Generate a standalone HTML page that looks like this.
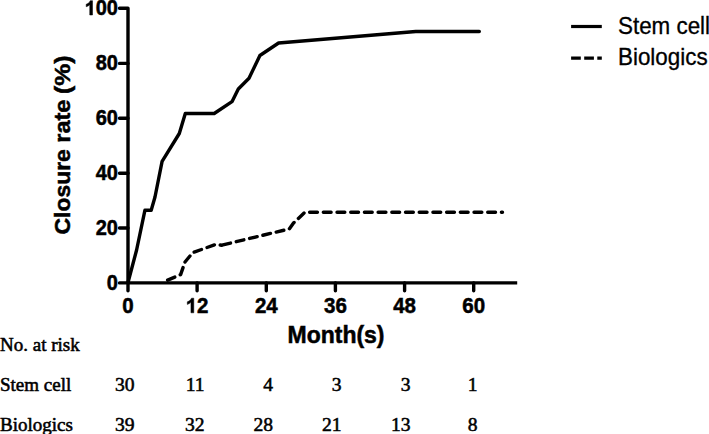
<!DOCTYPE html>
<html><head><meta charset="utf-8">
<style>
html,body{margin:0;padding:0;background:#fff;width:709px;height:434px;overflow:hidden}
svg{display:block}
.b{font-family:"Liberation Sans",sans-serif;font-weight:bold;fill:#000;stroke:#000;stroke-width:0.5px}
.r{font-family:"Liberation Sans",sans-serif;fill:#000;stroke:#000;stroke-width:0.3px}
.s{font-family:"Liberation Serif",serif;fill:#000;font-size:19.6px;stroke:#000;stroke-width:0.55px}
</style></head>
<body>
<svg width="709" height="434" viewBox="0 0 709 434">
<g stroke="#000" stroke-width="3.4" fill="none" stroke-linecap="round" stroke-linejoin="round">
  <!-- y axis -->
  <path d="M119.5 8.2 H128 V290.8"/>
  <path d="M119.5 63.4 H128 M119.5 118.3 H128 M119.5 173.2 H128 M119.5 228 H128"/>
  <!-- x axis -->
  <path d="M119.5 282.9 H128"/><path d="M128 282.9 H517.2" stroke-linecap="butt"/>
  <path d="M197.1 282.9 V290.8 M266.3 282.9 V290.8 M335.4 282.9 V290.8 M404.6 282.9 V290.8 M473.7 282.9 V290.8"/>
</g>
<g stroke="#000" stroke-width="3.4" fill="none" stroke-linecap="round" stroke-linejoin="round">
  <polyline points="128,282.5 136.6,250 144.9,210.3 151.2,210.3 155,197 162.1,161.4 179.3,133.5 185.3,113.5 214.2,113.5 232,101.7 238.3,89 249,78.3 259.9,55.5 278.6,43 415.8,31.5 479.3,31.5"/>
  <polyline stroke-dasharray="7.8 5.9" stroke-dashoffset="-2.65" points="165.2,281.2 180.6,274.6 185,262 192.8,252.6 215.5,244.5 221.5,245.2"/>
  <polyline stroke-dasharray="7.8 5.9" stroke-dashoffset="12.23" points="221.5,245.2 289.3,228.9 293.5,223 305,212.2 502.5,212.2"/>
  <path d="M571.1 26.5 H601.8" stroke-linecap="butt" stroke-width="3.2"/>
  <path d="M571.1 58.1 H601.8" stroke-linecap="butt" stroke-width="3.2" stroke-dasharray="9.7 3.4"/>
</g>
<g class="b" font-size="20" text-anchor="end">
  <g transform="translate(118,15) scale(1,1.06)"><text x="0" y="0">00</text><path transform="translate(-33.37,0) scale(0.009766,-0.0096)" d="M806 0H525V1010Q371 876 162 810V1055Q272 1090 401 1187Q530 1282 578 1409H806Z" vector-effect="non-scaling-stroke"/></g>
  <text transform="translate(118,70.3) scale(1,1.06)">80</text>
  <text transform="translate(118,125.2) scale(1,1.06)">60</text>
  <text transform="translate(118,180.1) scale(1,1.06)">40</text>
  <text transform="translate(118,235) scale(1,1.06)">20</text>
  <text transform="translate(118,289.9) scale(1,1.06)">0</text>
</g>
<g class="b" font-size="20.5" text-anchor="middle">
  <text transform="translate(128,312.8) scale(1,1.08)">0</text>
  <g transform="translate(197.1,312.8) scale(1,1.08)"><path transform="translate(-11.4,0) scale(0.01001,-0.0096)" d="M806 0H525V1010Q371 876 162 810V1055Q272 1090 401 1187Q530 1282 578 1409H806Z" vector-effect="non-scaling-stroke"/><text x="0" y="0" text-anchor="start">2</text></g>
  <text transform="translate(266.3,312.8) scale(1,1.08)">24</text>
  <text transform="translate(335.4,312.8) scale(1,1.08)">36</text>
  <text transform="translate(404.6,312.8) scale(1,1.08)">48</text>
  <text transform="translate(473.7,312.8) scale(1,1.08)">60</text>
</g>
<text class="b" font-size="23" text-anchor="middle" transform="translate(336,343) scale(1,1.06)">Month(s)</text>
<g class="b" font-size="22.6">
<text transform="translate(69.8,234.5) rotate(-90)" textLength="85.3" lengthAdjust="spacingAndGlyphs">Closure</text>
<text transform="translate(69.8,142.8) rotate(-90)" textLength="43.3" lengthAdjust="spacingAndGlyphs">rate</text>
<text transform="translate(69.8,94) rotate(-90)" textLength="38.5" lengthAdjust="spacingAndGlyphs">(%)</text>
</g>
<text class="r" font-size="22.4" transform="translate(618,34) scale(1,1.08)">Stem cell</text>
<text class="r" font-size="22.4" transform="translate(618,65.4) scale(1,1.05)">Biologics</text>
<text class="s" x="0" y="351" font-size="19" style="font-size:19px">No. at risk</text>
<text class="s" x="0" y="390.5" style="font-size:19px">Stem cell</text>
<text class="s" x="0" y="430.5" style="font-size:19px">Biologics</text>
<g class="s" text-anchor="end">
  <text x="134.5" y="390.5">30</text>
  <text x="204.6" y="390.5">11</text>
  <text x="273" y="390.5">4</text>
  <text x="341.5" y="390.5">3</text>
  <text x="410.5" y="390.5">3</text>
  <text x="477.5" y="390.5">1</text>
  <text x="134.5" y="430.5">39</text>
  <text x="204.6" y="430.5">32</text>
  <text x="273" y="430.5">28</text>
  <text x="341.5" y="430.5">21</text>
  <text x="410.5" y="430.5">13</text>
  <text x="477.5" y="430.5">8</text>
</g>
</svg>
</body></html>
